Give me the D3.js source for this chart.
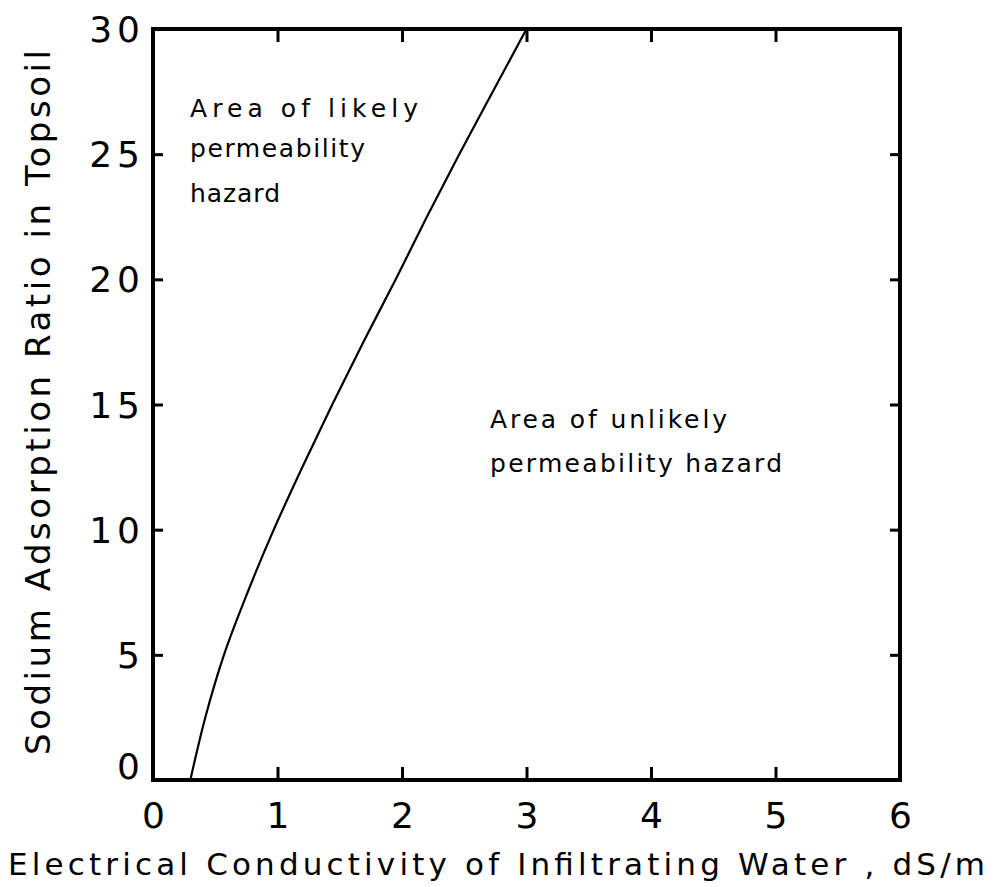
<!DOCTYPE html>
<html>
<head>
<meta charset="utf-8">
<script src="https://cdn.jsdelivr.net/npm/d3@7"></script>
<style>
  html, body { margin: 0; padding: 0; background: #fff; }
  svg text { font-family: "DejaVu Sans", "Liberation Sans", sans-serif; fill: #000; }
</style>
</head>
<body>
<svg id="chart" width="999" height="887"></svg>
<script>
// ---- data ----
const sarValues = [0, 2.5, 5, 7.5, 10, 12.5, 15, 17.5, 20, 22.5, 25, 27.5, 30];
const ecValues  = [0.30, 0.42, 0.57, 0.76, 0.97, 1.20, 1.44, 1.69, 1.95, 2.20, 2.46, 2.73, 3.00];
const xTicks = [0, 1, 2, 3, 4, 5, 6];
const yTicks = [0, 5, 10, 15, 20, 25, 30];
const xTitle = "Electrical Conductivity of Infiltrating Water , dS/m";
const yTitle = "Sodium Adsorption Ratio in Topsoil";
const likelyLabel = ["Area of likely", "permeability", "hazard"];
const unlikelyLabel = ["Area of unlikely", "permeability hazard"];

// ---- layout ----
const svg = d3.select("#chart");
const L = 153, R = 900, T = 29, B = 780;
const x = d3.scaleLinear().domain([0, 6]).range([L, R]);
const y = d3.scaleLinear().domain([0, 30]).range([B, T]);

// frame
svg.append("rect")
  .attr("x", L).attr("y", T).attr("width", R - L).attr("height", B - T)
  .attr("fill", "none").attr("stroke", "#000").attr("stroke-width", 4);

// bottom axis (ticks pointing inward)
const gx = svg.append("g").attr("transform", `translate(0,${B})`)
  .call(d3.axisBottom(x).tickValues(xTicks).tickSize(-13).tickPadding(14).tickFormat(d3.format("d")));
gx.select(".domain").remove();
gx.selectAll(".tick line").attr("stroke-width", 3)
  .filter(d => d === 0 || d === 6).remove();
gx.selectAll(".tick text").attr("font-size", 36)
  .attr("dy", "0.95em");

// top axis ticks
const gt = svg.append("g").attr("transform", `translate(0,${T})`)
  .call(d3.axisTop(x).tickValues([1, 2, 3, 4, 5]).tickSize(-13).tickFormat(""));
gt.select(".domain").remove();
gt.selectAll(".tick line").attr("stroke-width", 3);

// left axis
const gy = svg.append("g").attr("transform", `translate(${L},0)`)
  .call(d3.axisLeft(y).tickValues(yTicks).tickSize(-10).tickPadding(8).tickFormat(d3.format("d")));
gy.select(".domain").remove();
gy.selectAll(".tick line").attr("stroke-width", 3)
  .filter(d => d === 0 || d === 30).remove();
gy.selectAll(".tick text").attr("font-size", 36).attr("letter-spacing", 5)
  .attr("dy", d => d === 0 ? "-0.05em" : "0.35em");

// right axis ticks
const gr = svg.append("g").attr("transform", `translate(${R},0)`)
  .call(d3.axisRight(y).tickValues([5, 10, 15, 20, 25]).tickSize(-10).tickFormat(""));
gr.select(".domain").remove();
gr.selectAll(".tick line").attr("stroke-width", 3);

// curve
const pts = sarValues.map((s, i) => [ecValues[i], s]);
const line = d3.line().x(d => x(d[0])).y(d => y(d[1])).curve(d3.curveCatmullRom.alpha(0.5));
svg.append("path").datum(pts).attr("d", line)
  .attr("fill", "none").attr("stroke", "#000").attr("stroke-width", 2.2);

// axis titles
svg.append("text").text(xTitle)
  .attr("x", 8).attr("y", 875).attr("font-size", 31)
  .attr("textLength", 977).attr("lengthAdjust", "spacing");

svg.append("text").text(yTitle)
  .attr("transform", "translate(50,755) rotate(-90)")
  .attr("font-size", 34)
  .attr("textLength", 705).attr("lengthAdjust", "spacing");

// region annotations
const likelyPos = [[190, 117, 228], [190, 157, 175], [190, 202, 90]];
likelyLabel.forEach((t, i) => {
  svg.append("text").text(t)
    .attr("x", likelyPos[i][0]).attr("y", likelyPos[i][1]).attr("font-size", 25)
    .attr("textLength", likelyPos[i][2]).attr("lengthAdjust", "spacing");
});
const unlikelyPos = [[490, 428, 237], [490, 472, 292]];
unlikelyLabel.forEach((t, i) => {
  svg.append("text").text(t)
    .attr("x", unlikelyPos[i][0]).attr("y", unlikelyPos[i][1]).attr("font-size", 25)
    .attr("textLength", unlikelyPos[i][2]).attr("lengthAdjust", "spacing");
});
</script>
</body>
</html>
